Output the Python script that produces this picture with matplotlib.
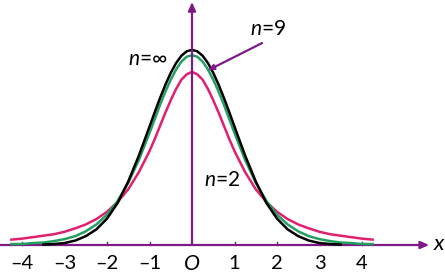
import matplotlib
matplotlib.use("Agg")
import matplotlib.pyplot as plt

plt.rcParams["mathtext.fontset"] = "custom"
plt.rcParams["mathtext.it"] = "Lato:italic"
plt.rcParams["mathtext.rm"] = "Lato"

# values (density vs x)
x_vals = [-4.25, -4.0, -3.75, -3.5, -3.25, -3.0, -2.75, -2.5, -2.25, -2.0, -1.75, -1.5, -1.25, -1.0,
          -0.875, -0.75, -0.625, -0.5, -0.375, -0.25, -0.125, 0.0, 0.125, 0.25, 0.375, 0.5, 0.625,
          0.75, 0.875, 1.0, 1.25, 1.5, 1.75, 2.0, 2.25, 2.5, 2.75, 3.0, 3.25, 3.5, 3.75, 4.0, 4.25]
n_inf = [None, None, None, 0.001, 0.002, 0.004, 0.009, 0.018, 0.032, 0.054, 0.086, 0.130, 0.183, 0.242,
         0.272, 0.301, 0.328, 0.352, 0.372, 0.387, 0.396, 0.399, 0.396, 0.387, 0.372, 0.352, 0.328,
         0.301, 0.272, 0.242, 0.183, 0.130, 0.086, 0.054, 0.032, 0.018, 0.009, 0.004, 0.002, 0.001,
         None, None, None]
n_9 = [0.002, 0.002, 0.004, 0.005, 0.008, 0.012, 0.018, 0.028, 0.042, 0.062, 0.090, 0.127, 0.174, 0.229,
       0.258, 0.287, 0.314, 0.338, 0.359, 0.375, 0.385, 0.388, 0.385, 0.375, 0.359, 0.338, 0.314,
       0.287, 0.258, 0.229, 0.174, 0.127, 0.090, 0.062, 0.042, 0.028, 0.018, 0.012, 0.008, 0.005,
       0.004, 0.002, 0.002]
n_2 = [0.011, 0.013, 0.016, 0.019, 0.022, 0.027, 0.034, 0.042, 0.053, 0.068, 0.088, 0.114, 0.149, 0.192,
       0.217, 0.244, 0.271, 0.296, 0.319, 0.338, 0.349, 0.354, 0.349, 0.338, 0.319, 0.296, 0.271,
       0.244, 0.217, 0.192, 0.149, 0.114, 0.088, 0.068, 0.053, 0.042, 0.034, 0.027, 0.022, 0.019,
       0.016, 0.013, 0.011]
tick_vals = [-4, -3, -2, -1, 1, 2, 3, 4]

purple = "#7d1a86"
font = ["Lato", "DejaVu Sans"]

fig = plt.figure(figsize=(4.45, 2.74), dpi=100)
ax = fig.add_axes([0, 0, 1, 1])
ax.set_xlim(-4.518, 5.953)
ax.set_ylim(-0.0593, 0.501)
ax.axis("off")


def pts(ys):
    return [x for x, y in zip(x_vals, ys) if y is not None], [y for y in ys if y is not None]


ax.plot(*pts(n_2), color="#e0206e", lw=1.8, zorder=3, solid_joinstyle="round")
ax.plot(*pts(n_9), color="#22a060", lw=1.8, zorder=4, solid_joinstyle="round")
ax.plot(*pts(n_inf), color="black", lw=1.8, zorder=5, solid_joinstyle="round")

# axes with arrows
arrow = dict(arrowstyle="-|>,head_length=0.5,head_width=0.22", color=purple, lw=1.6, shrinkA=0, shrinkB=0)
ax.annotate("", xy=(5.58, 0), xytext=(-4.518, 0), arrowprops=arrow, zorder=2)
ax.annotate("", xy=(0, 0.497), xytext=(0, 0), arrowprops=arrow, zorder=6)
for t in tick_vals:
    ax.plot([t, t], [0, 0.007], color=purple, lw=1.0)
    ax.text(t, -0.037, f"\u2013{-t}" if t < 0 else str(t), ha="center", va="center",
            fontsize=14.5, family=font)
ax.text(0, -0.039, "O", ha="center", va="center", fontsize=15.5, style="italic", family=font)
ax.text(5.8, 0.002, "x", ha="center", va="center", fontsize=16, style="italic", family=font)

ax.text(-1.035, 0.380, "$n$=\u221e", ha="center", va="center", fontsize=15, family=font)
ax.text(1.79, 0.442, "$n$=9", ha="center", va="center", fontsize=15, family=font)
ax.text(0.71, 0.133, "$n$=2", ha="center", va="center", fontsize=15, family=font)
ax.annotate("", xy=(0.37, 0.357), xytext=(1.65, 0.413),
            arrowprops=dict(arrowstyle="-|>,head_length=0.35,head_width=0.15", color=purple, lw=1.6,
                            shrinkA=0, shrinkB=0), zorder=7)

fig.savefig("out.png", dpi=100)
